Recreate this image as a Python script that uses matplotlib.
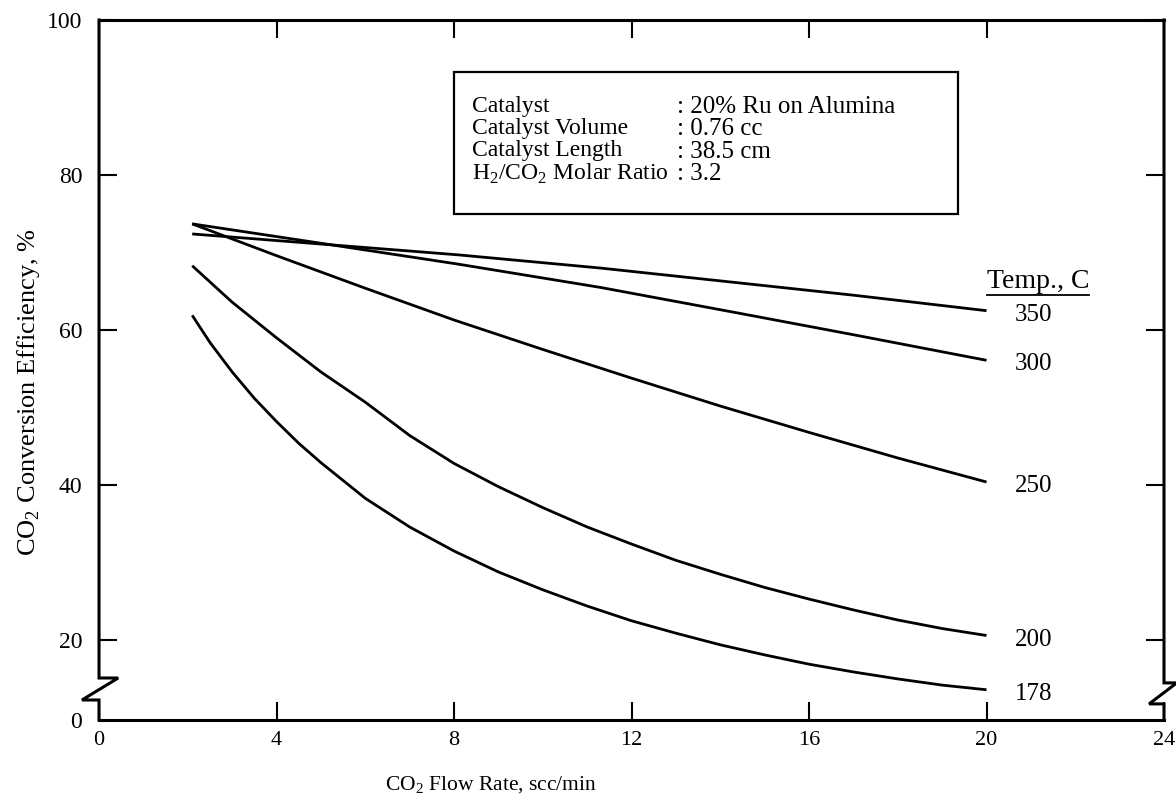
import matplotlib
matplotlib.use("Agg")
import matplotlib.pyplot as plt
from matplotlib.lines import Line2D

plt.rcParams['font.family'] = ['Liberation Serif', 'DejaVu Serif']
plt.rcParams['mathtext.fontset'] = 'custom'
plt.rcParams['mathtext.rm'] = 'Liberation Serif'

# data (flow rate in scc/min, efficiency in %)
temps = [350, 300, 250, 200, 178]

flow_350 = [2.1, 5.0, 8.1, 11.3, 14.4, 17.0, 20.0]
eff_350 = [72.4, 71.1, 69.7, 68.0, 66.1, 64.5, 62.5]

flow_300 = [2.1, 5.0, 8.1, 11.3, 14.4, 17.0, 20.0]
eff_300 = [73.7, 71.2, 68.5, 65.5, 62.2, 59.4, 56.1]

flow_250 = [2.1, 4, 6, 8, 10, 12, 14, 16, 18, 20]
eff_250 = [73.7, 69.6, 65.4, 61.3, 57.5, 53.8, 50.2, 46.8, 43.5, 40.4]

flow_200 = [2.1, 3, 4, 5, 6, 7, 8, 9, 10, 11, 12, 13, 14, 15, 16, 17, 18, 19, 20]
eff_200 = [68.3, 63.6, 59.0, 54.6, 50.7, 46.4, 42.8, 39.8, 37.1, 34.6, 32.4,
           30.3, 28.5, 26.8, 25.3, 23.9, 22.6, 21.5, 20.6]

flow_178 = [2.1, 2.5, 3, 3.5, 4, 4.5, 5, 6, 7, 8, 9, 10, 11, 12, 13, 14, 15,
            16, 17, 18, 19, 20]
eff_178 = [61.9, 58.4, 54.6, 51.2, 48.2, 45.4, 42.9, 38.3, 34.6, 31.5, 28.8,
           26.5, 24.4, 22.5, 20.9, 19.4, 18.1, 16.9, 15.9, 15.0, 14.2, 13.6]

curves = [(flow_350, eff_350), (flow_300, eff_300), (flow_250, eff_250),
          (flow_200, eff_200), (flow_178, eff_178)]

x_ticks = [0, 4, 8, 12, 16, 20, 24]
y_ticks = [20, 40, 60, 80, 100]
y_break = 9.7  # axis is broken below 20, bottom edge labelled 0

info_names = ['Catalyst', 'Catalyst Volume', 'Catalyst Length',
              r'H$_2$/CO$_2$ Molar Ratio']
info_values = [': 20% Ru on Alumina', ': 0.76 cc', ': 38.5 cm', ': 3.2']

fig = plt.figure(figsize=(11.76, 8.06), dpi=100)
ax = fig.add_axes([0.0842, 0.1067, 0.9056, 0.8685])

for (fx, fy), t in zip(curves, temps):
    ax.plot(fx, fy, color='black', lw=2.0, solid_capstyle='butt')
    ax.annotate(str(t), (fx[-1], fy[-1]), xytext=(28, -4),
                textcoords='offset pixels', ha='left', va='center',
                fontsize=18)

ax.set_xlim(0, 24)
ax.set_ylim(y_break, 100)
ax.set_xticks(x_ticks)
ax.set_yticks([y_break] + y_ticks)
ax.set_yticklabels(['0'] + [str(v) for v in y_ticks])
ax.tick_params(axis='both', direction='in', length=13, width=1.5,
               top=True, right=True)
ax.tick_params(axis='x', pad=8, labelsize=16)
ax.tick_params(axis='y', pad=12, labelsize=17)
ax.yaxis.get_major_ticks()[0].tick1line.set_visible(False)
ax.yaxis.get_major_ticks()[0].tick2line.set_visible(False)

for side in ['top', 'bottom']:
    ax.spines[side].set_linewidth(2.2)
ax.spines['left'].set_visible(False)
ax.spines['right'].set_visible(False)

# broken left and right axes with zigzag
left_x = [0, 0, 0.018, -0.016, 0, 0]
left_y = [1, 0.06, 0.06, 0.0286, 0.0286, 0]
right_x = [1, 1, 1.012, 0.986, 1, 1]
right_y = [1, 0.053, 0.053, 0.023, 0.023, 0]
for xs, ys in [(left_x, left_y), (right_x, right_y)]:
    ax.add_line(Line2D(xs, ys, transform=ax.transAxes, color='black',
                       lw=2.2, clip_on=False, solid_joinstyle='miter'))

# info box
ax.text(0.3502, 0.891, '\n'.join(info_names), transform=ax.transAxes,
        fontsize=17, va='top', ha='left', linespacing=1.06)
ax.text(0.5427, 0.891, '\n'.join(info_values), transform=ax.transAxes,
        fontsize=18, va='top', ha='left', linespacing=1.01)
ax.add_patch(plt.Rectangle((0.3333, 0.7229), 0.4733, 0.2029,
                           transform=ax.transAxes, fill=False, lw=1.6,
                           color='black'))

# legend header
hdr = ax.text(20.0, 66.3, 'Temp., C', fontsize=20, ha='left', va='center')
fig.canvas.draw()
bb = hdr.get_window_extent().transformed(fig.transFigure.inverted())
fig.add_artist(Line2D([bb.x0, bb.x1], [bb.y0 - 0.002, bb.y0 - 0.002],
                      transform=fig.transFigure, color='black', lw=1.3))

fig.text(0.024, 0.513, r'CO$_2$ Conversion Efficiency, %', rotation=90,
         ha='center', va='center', fontsize=19)
fig.text(0.417, 0.026, r'CO$_2$ Flow Rate, scc/min', ha='center',
         va='center', fontsize=15.5)

fig.savefig('out.png', dpi=100)
